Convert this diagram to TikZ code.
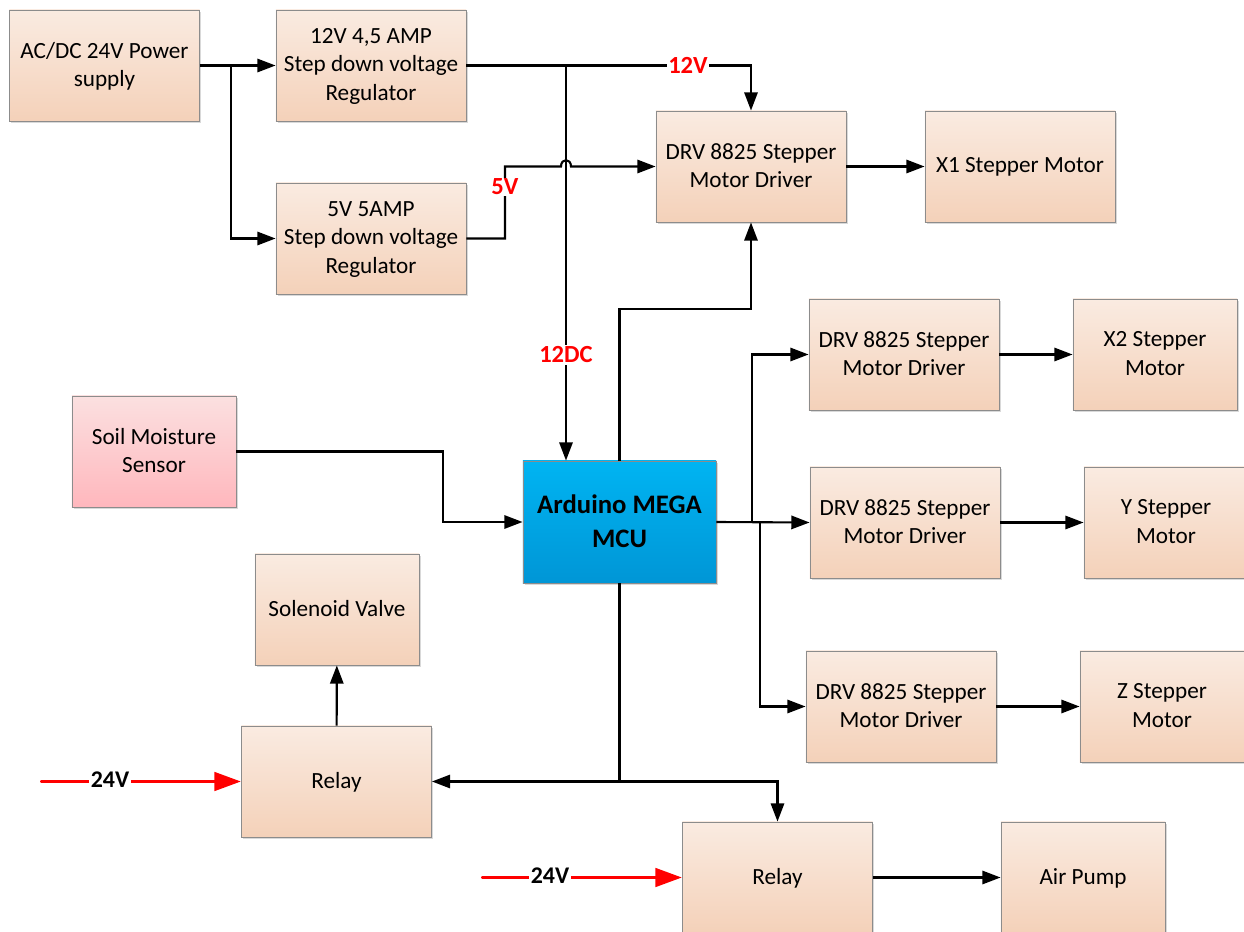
\documentclass[tikz,border=0pt]{standalone}
\usepackage{fontspec}
\setmainfont{Carlito}
\usetikzlibrary{arrows.meta,shadows}
\definecolor{boxtop}{HTML}{FAEBE1}
\definecolor{boxbot}{HTML}{F4D1B9}
\definecolor{mcutop}{HTML}{00B4F2}
\definecolor{mcubot}{HTML}{0096D6}
\definecolor{soiltop}{HTML}{FBE0E0}
\definecolor{soilbot}{HTML}{FFB7BD}
\begin{document}
\begin{tikzpicture}[x=0.025cm,y=-0.025cm,
  blk/.style={draw=black!45,line width=0.6pt,top color=boxtop,bottom color=boxbot,
    drop shadow={shadow xshift=1.2pt,shadow yshift=-1.2pt,opacity=.3},
    align=center,minimum width=4.75cm,minimum height=2.775cm,inner sep=2pt,text depth=1.5pt,
    font=\fontsize{16.5}{20.2}\selectfont},
  sblk/.style={blk,minimum width=4.1cm},
  wire/.style={line width=1.5pt,-{Triangle[length=13pt,width=9.5pt]}},
  volt/.style={fill=white,text=red,inner sep=1pt,font=\bfseries\fontsize{17.5}{20}\selectfont},
  power/.style={red,line width=2.8pt,line cap=round,-{Triangle[length=19pt,width=13pt]}},
  plabel/.style={fill=white,inner sep=1pt,font=\bfseries\fontsize{17}{20}\selectfont}]

\useasboundingbox (0,0) rectangle (1244,932);

\node[blk] (psu) at (104.5,65.5) {AC/DC 24V Power\\supply};
\node[blk] (reg12) at (371,65.5) {12V 4,5 AMP\\Step down voltage\\Regulator};
\node[blk] (reg5) at (371,238.5) {5V 5AMP\\Step down voltage\\Regulator};
\node[blk] (drv1) at (751,166.5) {DRV 8825 Stepper\\Motor Driver};
\node[blk] (motx1) at (1020,166.5) {X1 Stepper Motor};
\node[blk] (drv2) at (904,354.5) {DRV 8825 Stepper\\Motor Driver};
\node[sblk] (motx2) at (1155,354.5) {X2 Stepper\\Motor};
\node[blk] (drv3) at (905,522.5) {DRV 8825 Stepper\\Motor Driver};
\node[sblk] (moty) at (1166,522.5) {Y Stepper\\Motor};
\node[blk] (drv4) at (901,706.5) {DRV 8825 Stepper\\Motor Driver};
\node[sblk] (motz) at (1162,706.5) {Z Stepper\\Motor};
\node[sblk,top color=soiltop,bottom color=soilbot] (soil) at (154,451.5) {Soil Moisture\\Sensor};
\node[blk,top color=mcutop,bottom color=mcubot,minimum width=4.825cm,minimum height=3.05cm,
  font=\bfseries\fontsize{19}{24}\selectfont] (mcu) at (619.5,522) {Arduino MEGA\\MCU};
\node[sblk] (valve) at (337,609.5) {Solenoid Valve};
\node[blk] (relay1) at (336.5,781.5) {Relay};
\node[blk] (relay2) at (777.5,877.5) {Relay};
\node[sblk] (pump) at (1083,877.5) {Air Pump};

\coordinate (j1) at (231,65.5);
\coordinate (j2) at (566,65.5);
\coordinate (j3) at (505,166.5);
\coordinate (j4) at (752,522);
\coordinate (j5) at (760,522);
\coordinate (j6) at (mcu.south |- relay1.east);
\coordinate (in1) at (42,781.5);
\coordinate (in2) at (483,877.5);

\draw[wire] (psu) -- (reg12);
\draw[wire] (j1) |- (reg5.west);
\draw[wire] (reg12.east) -| (drv1.north);
\draw[wire] (j2) -- (j2 |- mcu.north);
\draw[wire] (reg5.east) -| (j3) -- (561,166.5) .. controls (561,158) and (571,158) .. (571,166.5) -- (drv1.west);
\draw[wire] (drv1) -- (motx1);
\draw[wire] (mcu.north) -- (mcu.north |- 0,309) -| (drv1.south);
\draw[wire] (mcu.east) -- (drv3.west);
\draw[wire] (j4) |- (drv2.west);
\draw[wire] (j5) |- (drv4.west);
\draw[wire] (drv2) -- (motx2);
\draw[wire] (drv3) -- (moty);
\draw[wire] (drv4) -- (motz);
\draw[wire] (soil.east) -- (443,451.5) |- (mcu.west);
\draw[wire] (mcu.south) |- (relay1.east);
\draw[wire] (j6) -| (relay2.north);
\draw[wire] (relay1) -- (valve);
\draw[wire] (relay2) -- (pump);
\draw[power] (in1) -- (relay1.west);
\draw[power] (in2) -- (relay2.west);

\node[volt] (v12) at (688,65.5) {12V};
\node[volt] (v5) at (505,187) {5V};
\node[volt] (dc12) at (566,355) {12DC};
\node[plabel] (p1) at (110,780) {24V};
\node[plabel] (p2) at (550,876) {24V};

\end{tikzpicture}
\end{document}
